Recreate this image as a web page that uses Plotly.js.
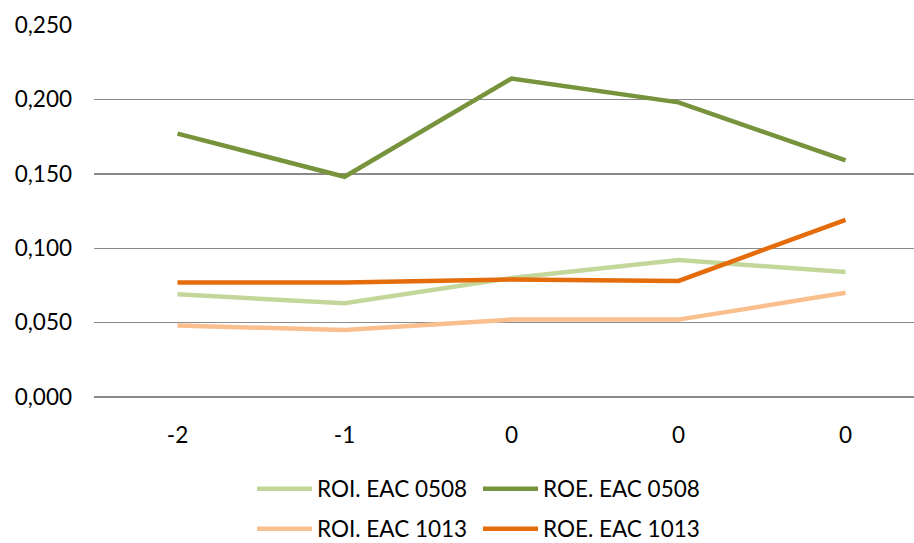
<!DOCTYPE html>
<html><head><meta charset="utf-8">
<script src="https://cdn.plot.ly/plotly-3.0.1.min.js"></script>
<style>body{margin:0;padding:0;background:#fff}#chart{width:914px;height:543px}</style>
</head><body><div id="chart"></div>
<script>
const categories = ["-2", "-1", "0", "0", "0"];
const roi0508 = [0.069, 0.063, 0.080, 0.092, 0.084];
const roe0508 = [0.177, 0.148, 0.214, 0.198, 0.159];
const roi1013 = [0.048, 0.045, 0.052, 0.052, 0.070];
const roe1013 = [0.077, 0.077, 0.079, 0.078, 0.119];
const seriesNames = ["ROI. EAC 0508", "ROE. EAC 0508", "ROI. EAC 1013", "ROE. EAC 1013"];
const yTicks = [0, 0.05, 0.10, 0.15, 0.20, 0.25];

const xIdx = categories.map((c, i) => i);
const font = "Lato, 'Open Sans', sans-serif";
function tr(y, name, color, leg) {
  return {x: xIdx, y: y, name: name, type: "scatter", mode: "lines",
    line: {color: color, width: 4.5}, legend: leg};
}
const data = [
  tr(roi0508, seriesNames[0], "#c4d79b", "legend"),
  tr(roe0508, seriesNames[1], "#77933c", "legend"),
  tr(roi1013, seriesNames[2], "#fabf8f", "legend2"),
  tr(roe1013, seriesNames[3], "#e46c0a", "legend2")
];
const legCommon = {orientation: "h", xanchor: "left", yanchor: "middle", xref: "container", yref: "container",
  font: {family: font, size: 22.5, color: "#000"}, entrywidth: 156, itemwidth: 55, bgcolor: "rgba(0,0,0,0)"};
const layout = {
  width: 914, height: 543,
  margin: {l: 94, r: 0, t: 25, b: 146, autoexpand: false},
  paper_bgcolor: "#fff", plot_bgcolor: "#fff",
  separators: ",.",
  font: {family: font, size: 22.5, color: "#000"},
  xaxis: {range: [-0.5, 4.41], tickvals: xIdx, ticktext: categories, showgrid: false,
    zeroline: false, showline: false, ticks: "", ticklen: 0, tickfont: {size: 22.5},
    ticklabelstandoff: 22, automargin: false, fixedrange: true},
  yaxis: {range: [0, 0.25], tickvals: yTicks, tickformat: ".3f", showgrid: true,
    gridcolor: "#8a8a8a", gridwidth: 1.4, zeroline: true, zerolinecolor: "#8a8a8a", zerolinewidth: 1.4,
    showline: false, ticks: "", automargin: false,
    tickfont: {size: 22.5}, ticklabelstandoff: 21},
  legend: Object.assign({}, legCommon, {x: 252 / 914, y: 1 - 489 / 543}),
  legend2: Object.assign({}, legCommon, {x: 252 / 914, y: 1 - 529 / 543}),
  showlegend: true
};
Plotly.newPlot("chart", data, layout, {staticPlot: true});
</script></body></html>
